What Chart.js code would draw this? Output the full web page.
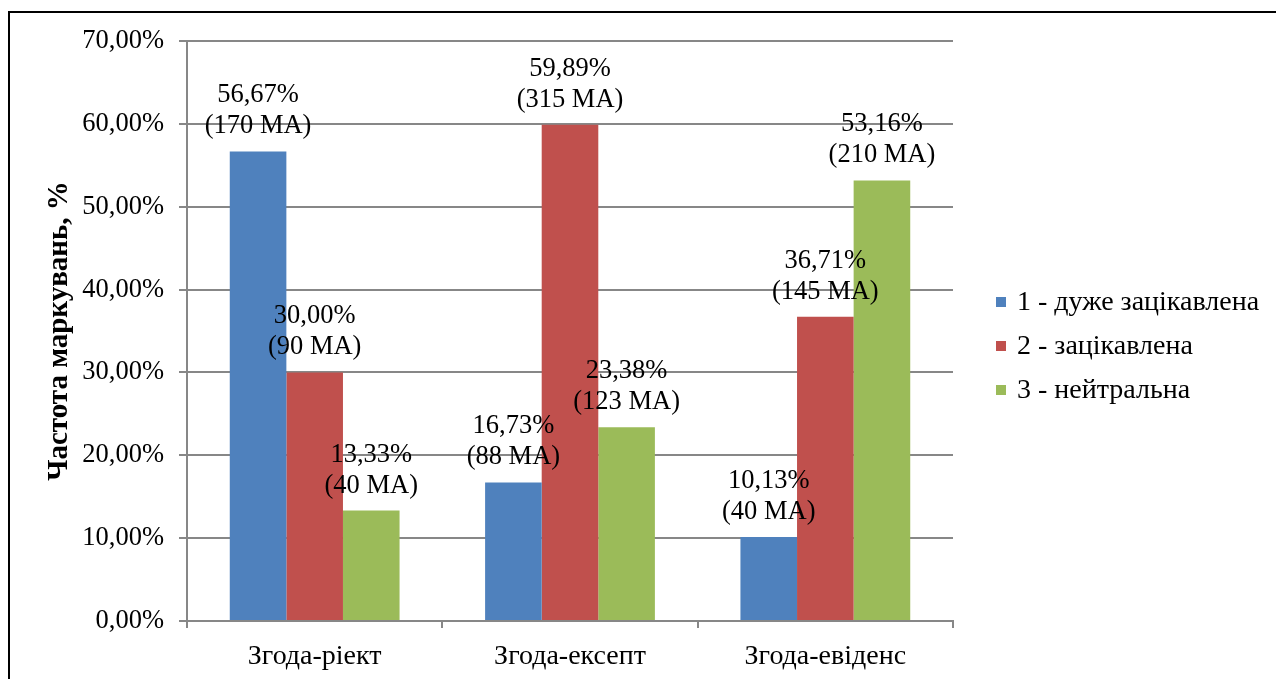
<!DOCTYPE html>
<html lang="uk">
<head>
    <meta charset="UTF-8">
    <title>Частота маркувань</title>
    <script src="https://cdn.jsdelivr.net/npm/chart.js@4.4.0/dist/chart.umd.min.js"></script>
    <style>
        html, body {
            margin: 0;
            padding: 0;
            overflow: hidden;
            background: #fff;
        }
        .frame {
            position: absolute;
            left: 8px;
            top: 11px;
            width: 1300px;
            height: 700px;
            border-left: 2px solid #000;
            border-top: 2px solid #000;
        }
        .chart-box {
            position: absolute;
            left: 0;
            top: 0;
            width: 1276px;
            height: 679px;
        }
    </style>
</head>
<body>
    <div class="frame"></div>
    <div class="chart-box">
        <canvas id="chart"></canvas>
    </div>

    <script>
        // Data
        const categories = ['Згода-ріект', 'Згода-ексепт', 'Згода-евіденс'];
        const seriesNames = ['1 - дуже зацікавлена', '2 - зацікавлена', '3 - нейтральна'];
        const veryInterested = [56.67, 16.73, 10.13];
        const interested = [30.00, 59.89, 36.71];
        const neutral = [13.33, 23.38, 53.16];
        const veryInterestedCounts = [170, 88, 40];
        const interestedCounts = [90, 315, 145];
        const neutralCounts = [40, 123, 210];
        const yTicks = [0, 10, 20, 30, 40, 50, 60, 70];

        const colors = ['#4F81BD', '#C0504D', '#9BBB59'];
        const gridColor = '#878787';
        const fontFamily = '"Liberation Serif", "Times New Roman", serif';
        Chart.defaults.font.family = fontFamily;
        Chart.defaults.color = '#000';

        function pct(v) {
            return v.toFixed(2).replace('.', ',') + '%';
        }

        // draws "56,67%" / "(170 МА)" above each bar
        const barLabels = {
            id: 'barLabels',
            afterDatasetsDraw(chart) {
                const ctx = chart.ctx;
                ctx.save();
                ctx.font = '26.5px ' + fontFamily;
                ctx.fillStyle = '#000';
                ctx.textAlign = 'center';
                ctx.textBaseline = 'middle';
                chart.data.datasets.forEach((ds, i) => {
                    chart.getDatasetMeta(i).data.forEach((bar, j) => {
                        ctx.fillText(pct(ds.data[j]), bar.x, bar.y - 56);
                        ctx.fillText('(' + ds.counts[j] + ' МА)', bar.x, bar.y - 25);
                    });
                });
                ctx.restore();
            }
        };

        // legend to the right of the plot, square markers
        const sideLegend = {
            id: 'sideLegend',
            afterDraw(chart) {
                const ctx = chart.ctx;
                const area = chart.chartArea;
                const x = area.right + 43;
                const midY = (area.top + area.bottom) / 2 + 15;
                const step = 44;
                const n = chart.data.datasets.length;
                ctx.save();
                ctx.font = '28px ' + fontFamily;
                ctx.textAlign = 'left';
                ctx.textBaseline = 'middle';
                chart.data.datasets.forEach((ds, i) => {
                    const y = midY + (i - (n - 1) / 2) * step;
                    ctx.fillStyle = ds.backgroundColor;
                    ctx.fillRect(x, y - 5, 10, 10);
                    ctx.fillStyle = '#000';
                    ctx.fillText(ds.label, x + 21, y + 1);
                });
                ctx.restore();
            }
        };

        const makeSet = (idx, data, counts) => ({
            label: seriesNames[idx],
            data: data,
            counts: counts,
            backgroundColor: colors[idx],
            borderWidth: 0,
            categoryPercentage: 0.665,
            barPercentage: 1.0
        });

        new Chart(document.getElementById('chart'), {
            type: 'bar',
            data: {
                labels: categories,
                datasets: [
                    makeSet(0, veryInterested, veryInterestedCounts),
                    makeSet(1, interested, interestedCounts),
                    makeSet(2, neutral, neutralCounts)
                ]
            },
            options: {
                responsive: true,
                maintainAspectRatio: false,
                animation: false,
                layout: {
                    padding: { top: 41, left: 42, right: 323, bottom: 0 }
                },
                plugins: {
                    tooltip: { enabled: false },
                    legend: { display: false }
                },
                scales: {
                    x: {
                        afterFit: (scale) => {
                            scale.height = 58;
                        },
                        grid: {
                            display: true,
                            offset: true,
                            drawOnChartArea: false,
                            drawTicks: true,
                            tickLength: 7,
                            color: gridColor,
                            lineWidth: 2
                        },
                        border: { color: gridColor, width: 2 },
                        ticks: {
                            color: '#000',
                            padding: 15,
                            font: { family: fontFamily, size: 28, lineHeight: 1 }
                        }
                    },
                    y: {
                        min: 0,
                        max: 70,
                        afterBuildTicks: (scale) => {
                            scale.ticks = yTicks.map(v => ({ value: v }));
                        },
                        afterFit: (scale) => {
                            scale.width = 145;
                        },
                        grid: {
                            color: gridColor,
                            lineWidth: 2,
                            tickLength: 8
                        },
                        border: { color: gridColor, width: 2 },
                        ticks: {
                            color: '#000',
                            padding: 15,
                            font: { family: fontFamily, size: 26.5 },
                            callback: (v) => pct(v)
                        },
                        title: {
                            display: true,
                            text: 'Частота маркувань, %',
                            color: '#000',
                            padding: 0,
                            font: { family: fontFamily, size: 29, weight: 'bold' }
                        }
                    }
                }
            },
            plugins: [barLabels, sideLegend]
        });
    </script>
</body>
</html>
